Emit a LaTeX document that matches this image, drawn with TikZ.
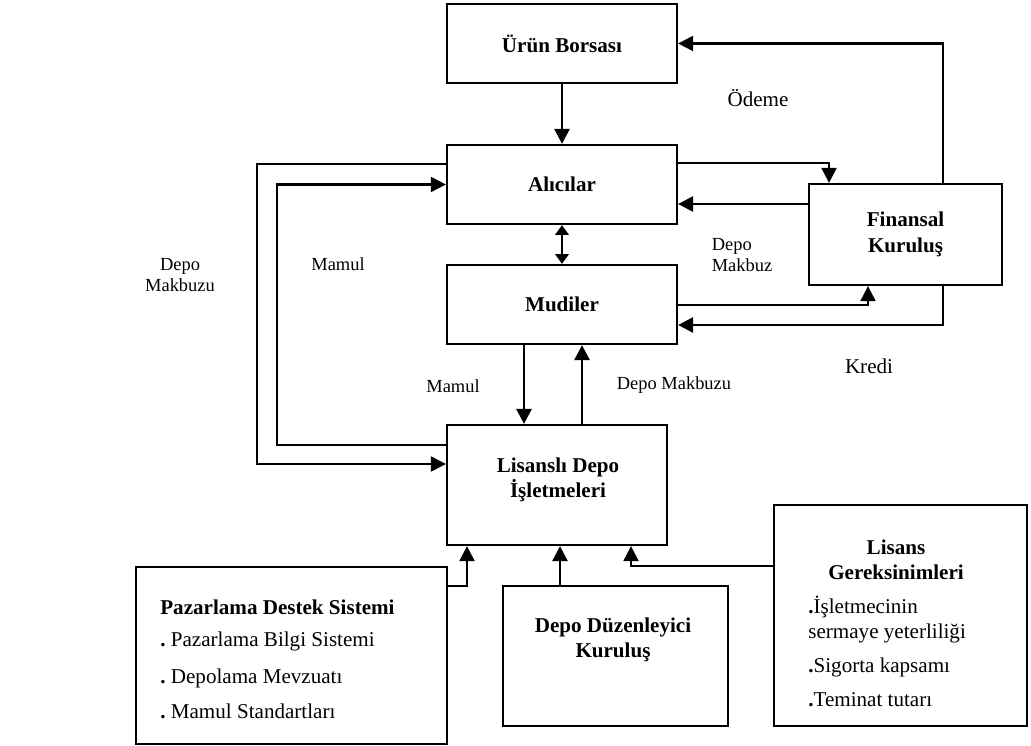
\documentclass[tikz,border=0pt]{standalone}
\usepackage{fontspec}
\setmainfont{Liberation Serif}
\usetikzlibrary{arrows.meta}

\begin{document}
\begin{tikzpicture}[x=0.02cm,y=-0.02cm,
            box/.style={draw,rectangle,line width=1.3pt,inner sep=0pt,align=center,font=\fontsize{12}{14}\selectfont\bfseries},
            title/.style={inner sep=0pt,align=center,font=\fontsize{12}{14}\selectfont\bfseries},
            item/.style={inner sep=0pt,anchor=base west,font=\fontsize{12}{14}\selectfont},
            lab/.style={inner sep=0pt,align=center,font=\fontsize{12}{14}\selectfont},
            small/.style={inner sep=0pt,align=left,font=\fontsize{10.5}{12}\selectfont},
            arr/.style={draw,-{Triangle[length=8.5pt,width=8.5pt]},line width=1.2pt},
            tharr/.style={arr,line width=1.55pt},
            dbl/.style={draw,{Triangle[length=5.5pt,width=7.5pt]}-{Triangle[length=5.5pt,width=7.5pt]},line width=1.55pt}
          ]
          \useasboundingbox (0,0) rectangle (1031,746);

          %boxes
          \node[box,minimum width=4.6cm,minimum height=1.58cm] (urun) at (562,43.5) {Ürün Borsası};
          \node[box,minimum width=4.6cm,minimum height=1.58cm] (alici) at (562,184.5) {Alıcılar};
          \node[box,minimum width=4.6cm,minimum height=1.58cm] (mudil) at (562,304.5) {Mudiler};
          \node[box,minimum width=4.4cm,minimum height=2.4cm] (lisansli) at (557,485) {};
          \node[box,minimum width=3.86cm,minimum height=2.02cm] (finans) at (905.5,234.5) {Finansal\\[1pt]Kuruluş};
          \node[box,minimum width=6.22cm,minimum height=3.54cm] (pazar) at (291.5,655.5) {};
          \node[box,minimum width=4.5cm,minimum height=2.8cm] (duzen) at (615.5,656) {};
          \node[box,minimum width=5.06cm,minimum height=4.42cm] (lisans) at (900.5,615.5) {};

          %box texts
          \node[title] (lisanslitxt) at (558,480) {Lisanslı Depo\\İşletmeleri};
          \node[title] (duzentxt) at (613,640) {Depo Düzenleyici\\Kuruluş};
          \node[title] (lisanstxt) at (896,560) {Lisans\\Gereksinimleri};
          \node[item,font=\fontsize{12}{14}\selectfont\bfseries] (pazar0) at (160,614) {Pazarlama Destek Sistemi};
          \node[item] (pazar1) at (160,646) {\textbf{.}\ Pazarlama Bilgi Sistemi};
          \node[item] (pazar2) at (160,683) {\textbf{.}\ Depolama Mevzuatı};
          \node[item] (pazar3) at (160,718) {\textbf{.}\ Mamul Standartları};
          \node[item] (lisans1) at (808,613) {\textbf{.}İşletmecinin};
          \node[item] (lisans2) at (808,638) {sermaye yeterliliği};
          \node[item] (lisans3) at (808,672) {\textbf{.}Sigorta kapsamı};
          \node[item] (lisans4) at (808,706) {\textbf{.}Teminat tutarı};

          %labels
          \node[lab] (odeme) at (758,98) {Ödeme};
          \node[lab] (kredi) at (869,366) {Kredi};
          \node[small] (makbuz1) at (742,255) {Depo\\Makbuz};
          \node[small] (makbuz2) at (674,385) {Depo Makbuzu};
          \node[small,align=center] (makbuz3) at (180,275) {Depo\\Makbuzu};
          \node[small] (mamul1) at (338,264) {Mamul};
          \node[small] (mamul2) at (453,386) {Mamul};

          %lanes
          \coordinate (outer) at (257,0);
          \coordinate (inner) at (277,0);

          %connectors
          \draw[tharr] (urun) -- (alici);
          \draw[arr] (finans.north -| 943,0) |- (urun.east);
          \draw[arr] (alici.east |- 0,163) -| (finans.north -| 829,0);
          \draw[tharr] (finans.west |- 0,204) -- (alici.east |- 0,204);
          \draw[arr] (mudil.east |- 0,305) -| (finans.south -| 868,0);
          \draw[tharr] (finans.south -| 943,0) |- (mudil.east |- 0,325);
          \draw[dbl] (alici) -- (mudil);
          \draw[tharr] (mudil.south -| 524,0) -- (lisansli.north -| 524,0);
          \draw[tharr] (lisansli.north -| 582,0) -- (mudil.south -| 582,0);
          \draw[arr] (alici.west |- 0,164) -| (outer |- 0,464) -- (lisansli.west |- 0,464);
          \draw[arr] (lisansli.west |- 0,445) -| (inner |- alici.west) -- (alici.west);
          \draw[arr] (pazar.east |- 0,586) -| (lisansli.south -| 467,0);
          \draw[tharr] (duzen.north -| 560,0) -- (lisansli.south -| 560,0);
          \draw[arr] (lisans.west |- 0,566) -| (lisansli.south -| 631,0);

      \end{tikzpicture}
\end{document}
